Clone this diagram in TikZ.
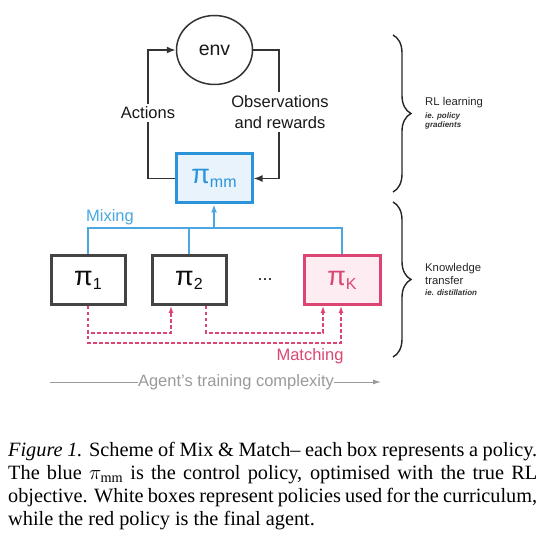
\documentclass[tikz,border=0pt]{standalone}
\usepackage{fontspec}
\setmainfont{Liberation Serif}
\setsansfont{Liberation Sans}
\usetikzlibrary{arrows.meta,decorations.pathreplacing,shapes.geometric}
\definecolor{linegray}{HTML}{333333}
\definecolor{boxgray}{HTML}{444444}
\definecolor{bblue}{HTML}{2B93D9}
\definecolor{lblue}{HTML}{4AA7E0}
\definecolor{bfill}{HTML}{E8F3FC}
\definecolor{rred}{HTML}{DA4671}
\definecolor{rfill}{HTML}{FDECF1}
\definecolor{agray}{HTML}{9A9A9A}
\newcommand{\mypi}[1]{{\fontsize{27}{27}\selectfont π}\raisebox{-4pt}{\fontsize{16}{16}\selectfont #1}}
\begin{document}
\begin{tikzpicture}[x=1pt,y=-1pt,
  lab/.style={font=\sffamily\fontsize{16.5}{19}\selectfont, text=black!90, inner sep=1pt},
  pbox/.style={draw=boxgray, line width=3pt, fill=white, minimum width=74pt, minimum height=49pt, font=\sffamily, text=black!95},
  loop/.style={draw=linegray, line width=1.5pt},
  tip/.style={-{Latex[length=9pt,width=7pt]}},
  mix/.style={draw=lblue, line width=1.5pt},
  match/.style={draw=rred, line width=1.3pt, dash pattern=on 3.5pt off 2.5pt},
  smtip/.style={-{Latex[length=7pt,width=5pt]}},
  brc/.style={draw=black!85, line width=1.4pt, decorate, decoration={brace, amplitude=18pt}},
  side/.style={font=\sffamily\fontsize{11.3}{13}\selectfont, text=black!85, inner sep=0pt, anchor=west},
  sidei/.style={font=\sffamily\itshape\bfseries\fontsize{8}{9.5}\selectfont, text=black!80, inner sep=0pt, anchor=west}
]
\useasboundingbox (0,0) rectangle (549,545);

% env
\node[ellipse, draw=linegray, line width=1.5pt, minimum width=76pt, minimum height=69pt, lab, font=\sffamily\fontsize{19.5}{22}\selectfont] (env) at (214.5,50) {env};
% control policy
\node[pbox, draw=bblue, fill=bfill, text=bblue, minimum width=76pt] (pmm) at (214,178.5) {\mypi{mm}};
% policies
\node[pbox] (p1) at (88,280) {\mypi{1}};
\node[pbox] (p2) at (189,280) {\mypi{2}};
\node[pbox, draw=rred, fill=rfill, text=rred, minimum width=76pt] (pK) at (342,280) {\mypi{K}};
\node[lab, font=\sffamily\fontsize{18}{19}\selectfont] (dots) at (265,280) {...};

% RL loop
\draw[loop, tip] (pmm.west) -- (148,178.5) |- (env.west);
\draw[loop, tip] (env.east) -- (279,50) |- (pmm.east);
\node[lab, fill=white, inner sep=3pt] (act) at (148,113) {Actions};
\node[lab, fill=white, align=center, inner sep=3pt, font=\sffamily\fontsize{16.5}{21}\selectfont] (obs) at (280,112) {Observations\\and rewards};

% mixing
\coordinate (mixR) at (342,228);
\coordinate (mixC) at (214,228);
\draw[mix] (p1.north) |- (mixR) -- (pK.north);
\draw[mix] (p2.north) -- (189,228);
\draw[mix, -{Latex[length=8pt,width=6pt]}] (mixC) -- (pmm.south);
\node[lab, text=lblue] (mixing) at (110,217) {Mixing};

% matching
\draw[match, smtip] (p1.south) |- (171,333) -- ([xshift=-18pt]p2.south);
\draw[match, smtip] (p1.south) |- (341,343) -- ([xshift=-1pt]pK.south);
\draw[match, smtip] ([xshift=17pt]p2.south) |- (323,333) -- ([xshift=-19pt]pK.south);
\node[lab, text=rred] (matching) at (310,356) {Matching};

% complexity arrow
\coordinate (cs) at (50,382);
\coordinate (ce) at (381,382);
\draw[agray, line width=1pt, -{Latex[length=8pt,width=5pt]}] (cs) -- (ce);
\node[lab, text=agray, fill=white, inner sep=0pt] (agent) at (236,382) {Agent's training complexity};

% braces
\draw[brc] (393,35) -- (393,192);
\draw[brc] (393,202) -- (393,357);
\node[side] (rl) at (425,103) {RL learning};
\node[sidei, align=left] (rlsub) at (425,121) {ie. policy\\gradients};
\node[side, align=left] (kt) at (425,273.5) {Knowledge\\transfer};
\node[sidei] (ktsub) at (425,293) {ie. distillation};

% caption
\node[anchor=north west, inner sep=0pt, text width=529pt, align=justify,
      font=\rmfamily\fontsize{20.3}{23}\selectfont] (cap) at (8,442)
  {\textit{Figure 1.} Scheme of Mix \& Match– each box represents a policy. The blue $\pi_{\mathrm{mm}}$ is the control policy, optimised with the true RL objective. White boxes represent policies used for the curriculum, while the red policy is the final agent.};
\end{tikzpicture}
\end{document}
